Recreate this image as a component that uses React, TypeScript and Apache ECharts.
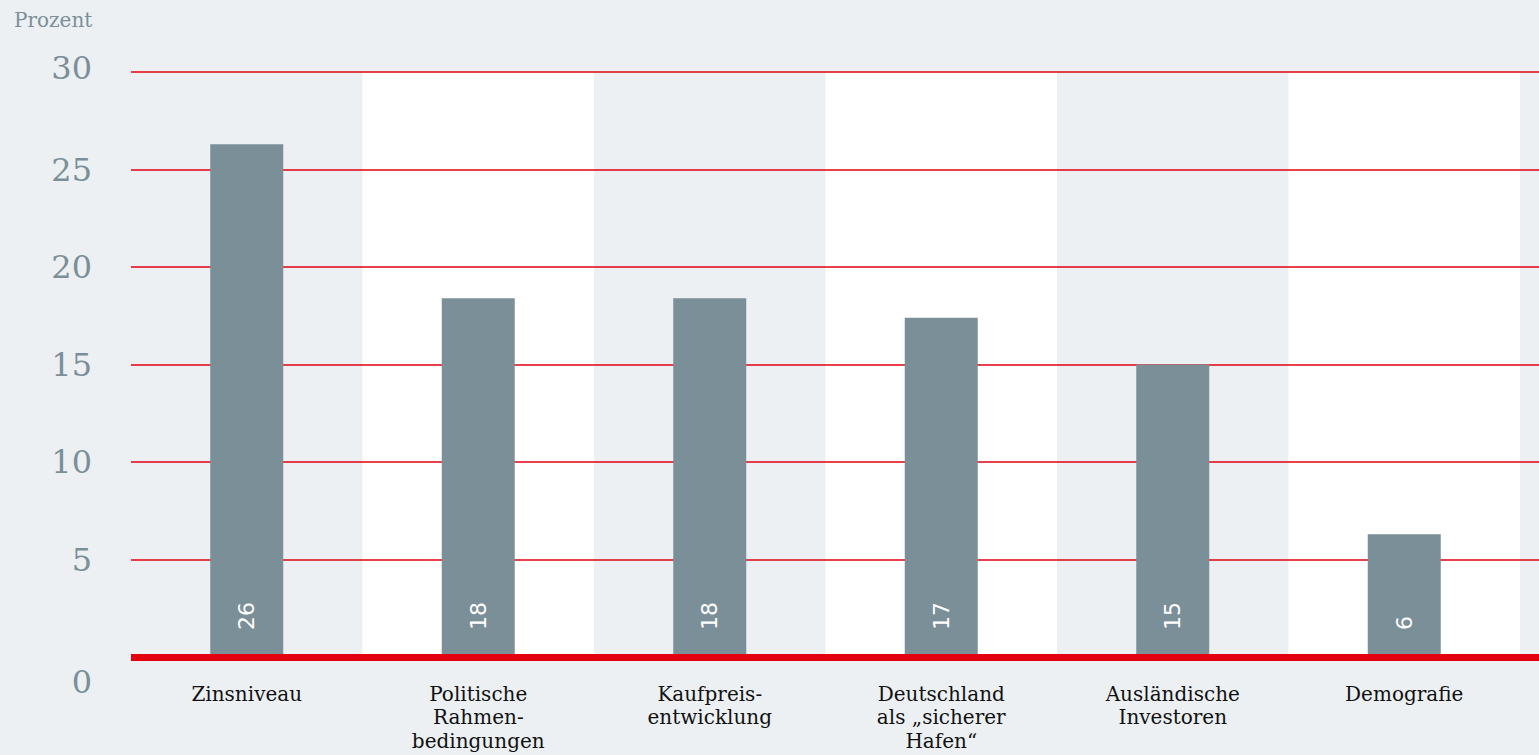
import React, { useEffect, useRef } from "react";
import * as echarts from "echarts";

const categories = [
  "Zinsniveau",
  "Politische\nRahmen-\nbedingungen",
  "Kaufpreis-\nentwicklung",
  "Deutschland\nals „sicherer\nHafen“",
  "Ausländische\nInvestoren",
  "Demografie",
];
const values = [26.3, 18.4, 18.4, 17.4, 15.0, 6.3];
const yTicks = { min: 0, max: 30, interval: 5 };
const unitLabel = "Prozent";

const SERIF = "'DejaVu Serif', serif";
const SANS = "'DejaVu Sans', sans-serif";
const GREY = "#7B8F98";
const RED = "#E3000F";
const BG = "#ECF0F3";

export default function App() {
  const ref = useRef<HTMLDivElement>(null);
  useEffect(() => {
    if (!ref.current) return;
    const chart = echarts.init(ref.current, undefined, { renderer: "svg" });
    chart.setOption({
      animation: false,
      backgroundColor: BG,
      graphic: [
        {
          type: "text",
          left: 14,
          top: 10,
          style: { text: unitLabel, fill: GREY, font: `20px ${SERIF}` },
        },
      ],
      grid: [
        { left: 131, right: 19, top: 72, bottom: 98 },
        { left: 131, right: 0, top: 72, bottom: 98 },
      ],
      xAxis: [
        {
          type: "category",
          gridIndex: 0,
          z: 0,
          data: categories,
          axisLine: { show: false },
          axisTick: { show: false },
          axisLabel: {
            color: "#111",
            fontFamily: SERIF,
            fontSize: 20,
            lineHeight: 23.5,
            margin: 25,
            interval: 0,
            verticalAlign: "top",
          },
          splitArea: {
            show: true,
            interval: 0,
            areaStyle: { color: ["rgba(0,0,0,0)", "#FFFFFF"] },
          },
        },
        {
          type: "value",
          gridIndex: 1,
          min: 0,
          max: 1,
          z: 5,
          axisLine: { show: true, lineStyle: { color: RED, width: 7, cap: "butt" } },
          axisTick: { show: false },
          axisLabel: { show: false },
          splitLine: { show: false },
        },
      ],
      yAxis: [
        {
          type: "value",
          gridIndex: 0,
          min: yTicks.min,
          max: yTicks.max,
          interval: yTicks.interval,
          axisLine: { show: false },
          axisTick: { show: false },
          splitLine: { show: false },
          axisLabel: {
            margin: 39,
            formatter: (v: number) =>
              v === 0 ? `{z|${v}}` : v === yTicks.max ? `{t|${v}}` : `{a|${v}}`,
            rich: {
              a: { color: GREY, fontFamily: SERIF, fontSize: 32 },
              t: { color: GREY, fontFamily: SERIF, fontSize: 32, padding: [0, 0, 8, 0] },
              z: { color: GREY, fontFamily: SERIF, fontSize: 32, padding: [50, 0, 0, 0] },
            },
          },
        },
        {
          type: "value",
          gridIndex: 1,
          z: 1,
          min: yTicks.min,
          max: yTicks.max,
          interval: yTicks.interval,
          axisLine: { show: false },
          axisTick: { show: false },
          axisLabel: { show: false },
          splitLine: { show: true, lineStyle: { color: RED, width: 1.5 } },
        },
      ],
      series: [
        {
          type: "bar",
          xAxisIndex: 0,
          yAxisIndex: 0,
          z: 2,
          data: values,
          barWidth: 73,
          itemStyle: { color: GREY },
          label: {
            show: true,
            position: "insideBottom",
            rotate: 90,
            align: "left",
            verticalAlign: "middle",
            distance: 27,
            color: "#FFFFFF",
            fontFamily: SANS,
            fontSize: 22,
            formatter: (p: any) => String(Math.round(p.value)),
          },
        },
      ],
    });
    return () => chart.dispose();
  }, []);
  return (
    <div
      ref={ref}
      style={{ position: "fixed", left: 0, top: 0, width: 1539, height: 755 }}
    />
  );
}
